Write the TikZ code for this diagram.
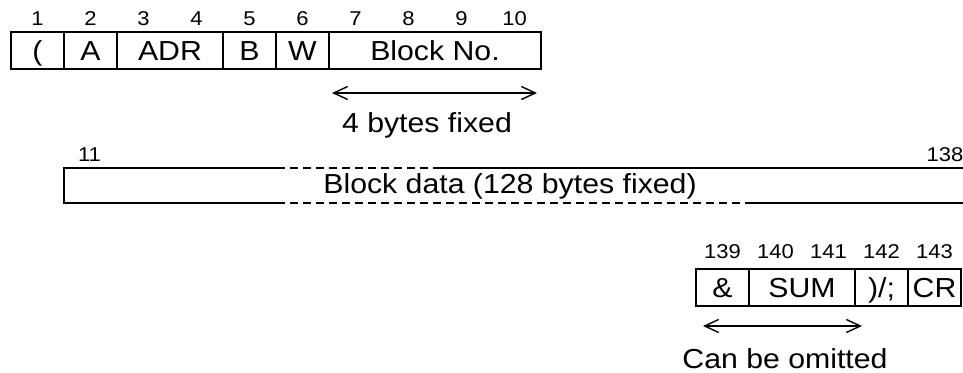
\documentclass[tikz,border=0pt]{standalone}
\usepackage{fontspec}
\setmainfont{Liberation Sans}[FakeStretch=1.1]
\usetikzlibrary{arrows.meta, positioning}

\tikzset{
  cell/.style={draw, line width=2pt, outer sep=0pt, inner sep=0pt,
    minimum height=37pt, text height=19.5pt, text depth=0pt,
    font=\fontsize{27.5}{32}\selectfont},
  num/.style={anchor=base, inner sep=0pt, font=\fontsize{20}{24}\selectfont},
  lbl/.style={anchor=base, inner sep=0pt, font=\fontsize{27.5}{32}\selectfont},
  span/.style={{Straight Barb[length=14pt,width=13pt]}-{Straight Barb[length=14pt,width=13pt]},
    line width=1.4pt},
  edge/.style={line width=2pt},
}

\begin{document}
\begin{tikzpicture}[x=1pt,y=-1pt]
  \useasboundingbox (0,0) rectangle (963,372);

  % Header: bytes 1 to 10
  \node[cell, minimum width=53pt] (lpar) at (37.5,50.5) {(};
  \node[cell, minimum width=53pt, right=0pt of lpar] (unit) {A};
  \node[cell, minimum width=106pt, right=0pt of unit] (adr) {ADR};
  \node[cell, minimum width=53pt, right=0pt of adr] (cmdb) {B};
  \node[cell, minimum width=53pt, right=0pt of cmdb] (cmdw) {W};
  \node[cell, minimum width=212pt, right=0pt of cmdw] (blkno) {Block No.};
  \foreach \n in {1,...,10} {
    \node[num] (top\n) at ({11+53*(\n-0.5)},25) {\n};
  }

  \coordinate (fixl) at (332,93);
  \coordinate (fixr) at (537,93);
  \draw[span] (fixl) -- (fixr);
  \node[lbl] (fixed) at (427,132) {4 bytes fixed};

  % Block data: bytes 11 to 138
  \node[num] (first) at (89.5,161) {11};
  \node[num] (last) at (945,161) {138};
  \draw[edge] (277,168) -- (64,168) -- (64,203) -- (277,203);
  \draw[edge, dash pattern=on 8pt off 5pt] (277,168) -- (433,168);
  \draw[edge] (433,168) -- (963,168);
  \draw[edge, dash pattern=on 8pt off 5pt] (277,203) -- (750,203);
  \draw[edge] (750,203) -- (963,203);
  \node[lbl] (data) at (510,193) {Block data (128 bytes fixed)};

  % Trailer: bytes 139 to 143
  \node[cell, minimum width=53pt] (amp) at (722.5,287.5) {\&};
  \node[cell, minimum width=106pt, right=0pt of amp] (sum) {SUM};
  \node[cell, minimum width=53pt, right=0pt of sum] (term) {)/;};
  \node[cell, minimum width=53pt, right=0pt of term] (cr) {CR};
  \foreach \n [count=\i] in {139,...,143} {
    \node[num] (bot\i) at ({696+53*(\i-0.5)},258) {\n};
  }

  \coordinate (omitl) at (703,326);
  \coordinate (omitr) at (862,326);
  \draw[span] (omitl) -- (omitr);
  \node[lbl] (omit) at (785,368) {Can be omitted};
\end{tikzpicture}
\end{document}
